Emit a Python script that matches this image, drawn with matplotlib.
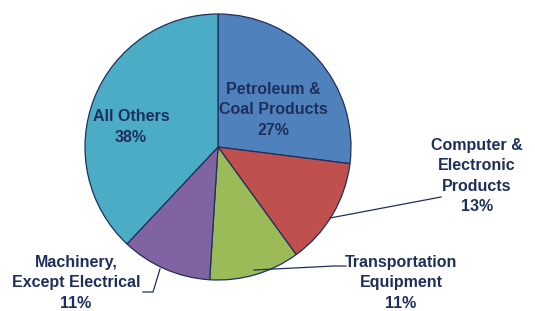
import matplotlib.pyplot as plt

# data
labels = ['Petroleum &\nCoal Products', 'Computer &\nElectronic\nProducts',
          'Transportation\nEquipment', 'Machinery,\nExcept Electrical', 'All Others']
shares = [27, 13, 11, 11, 38]
colors = ['#4F81BD', '#C0504D', '#9BBB59', '#8064A2', '#4BACC6']

txt_color = '#1F2F5C'
plt.rcParams['font.family'] = ['Liberation Sans', 'DejaVu Sans']

fig = plt.figure(figsize=(5.35, 3.11), dpi=100)
ax = fig.add_axes([0, 0, 1, 1])

cx, cy, r = 218, 311 - 147, 133
ax.pie(shares, colors=colors, startangle=90, counterclock=False,
       center=(cx, cy), radius=r, frame=True,
       wedgeprops=dict(edgecolor='#1F2F5C', linewidth=0.9))
ax.set_xlim(0, 535)
ax.set_ylim(0, 311)
ax.set_aspect('equal')
ax.axis('off')

# label positions (pixel space, y measured from top)
pos = [(273, 110), (477, 176), (401, 283), (76, 283), (131, 127)]
for lab, s, (x, y) in zip(labels, shares, pos):
    ax.text(x, 311 - y, f'{lab}\n{s}%', ha='center', va='center',
            fontsize=11.5, fontweight='bold', color=txt_color, linespacing=1.45)

# leader lines
lc = dict(color='#1F2F5C', linewidth=0.9)
ax.plot([330, 441], [311 - 218, 311 - 197], **lc)
ax.plot([254, 334, 346], [311 - 270, 311 - 266, 311 - 266], **lc)
ax.plot([160, 153, 143], [311 - 269, 311 - 292, 311 - 292], **lc)

fig.savefig('out.png', dpi=100, facecolor='white')
